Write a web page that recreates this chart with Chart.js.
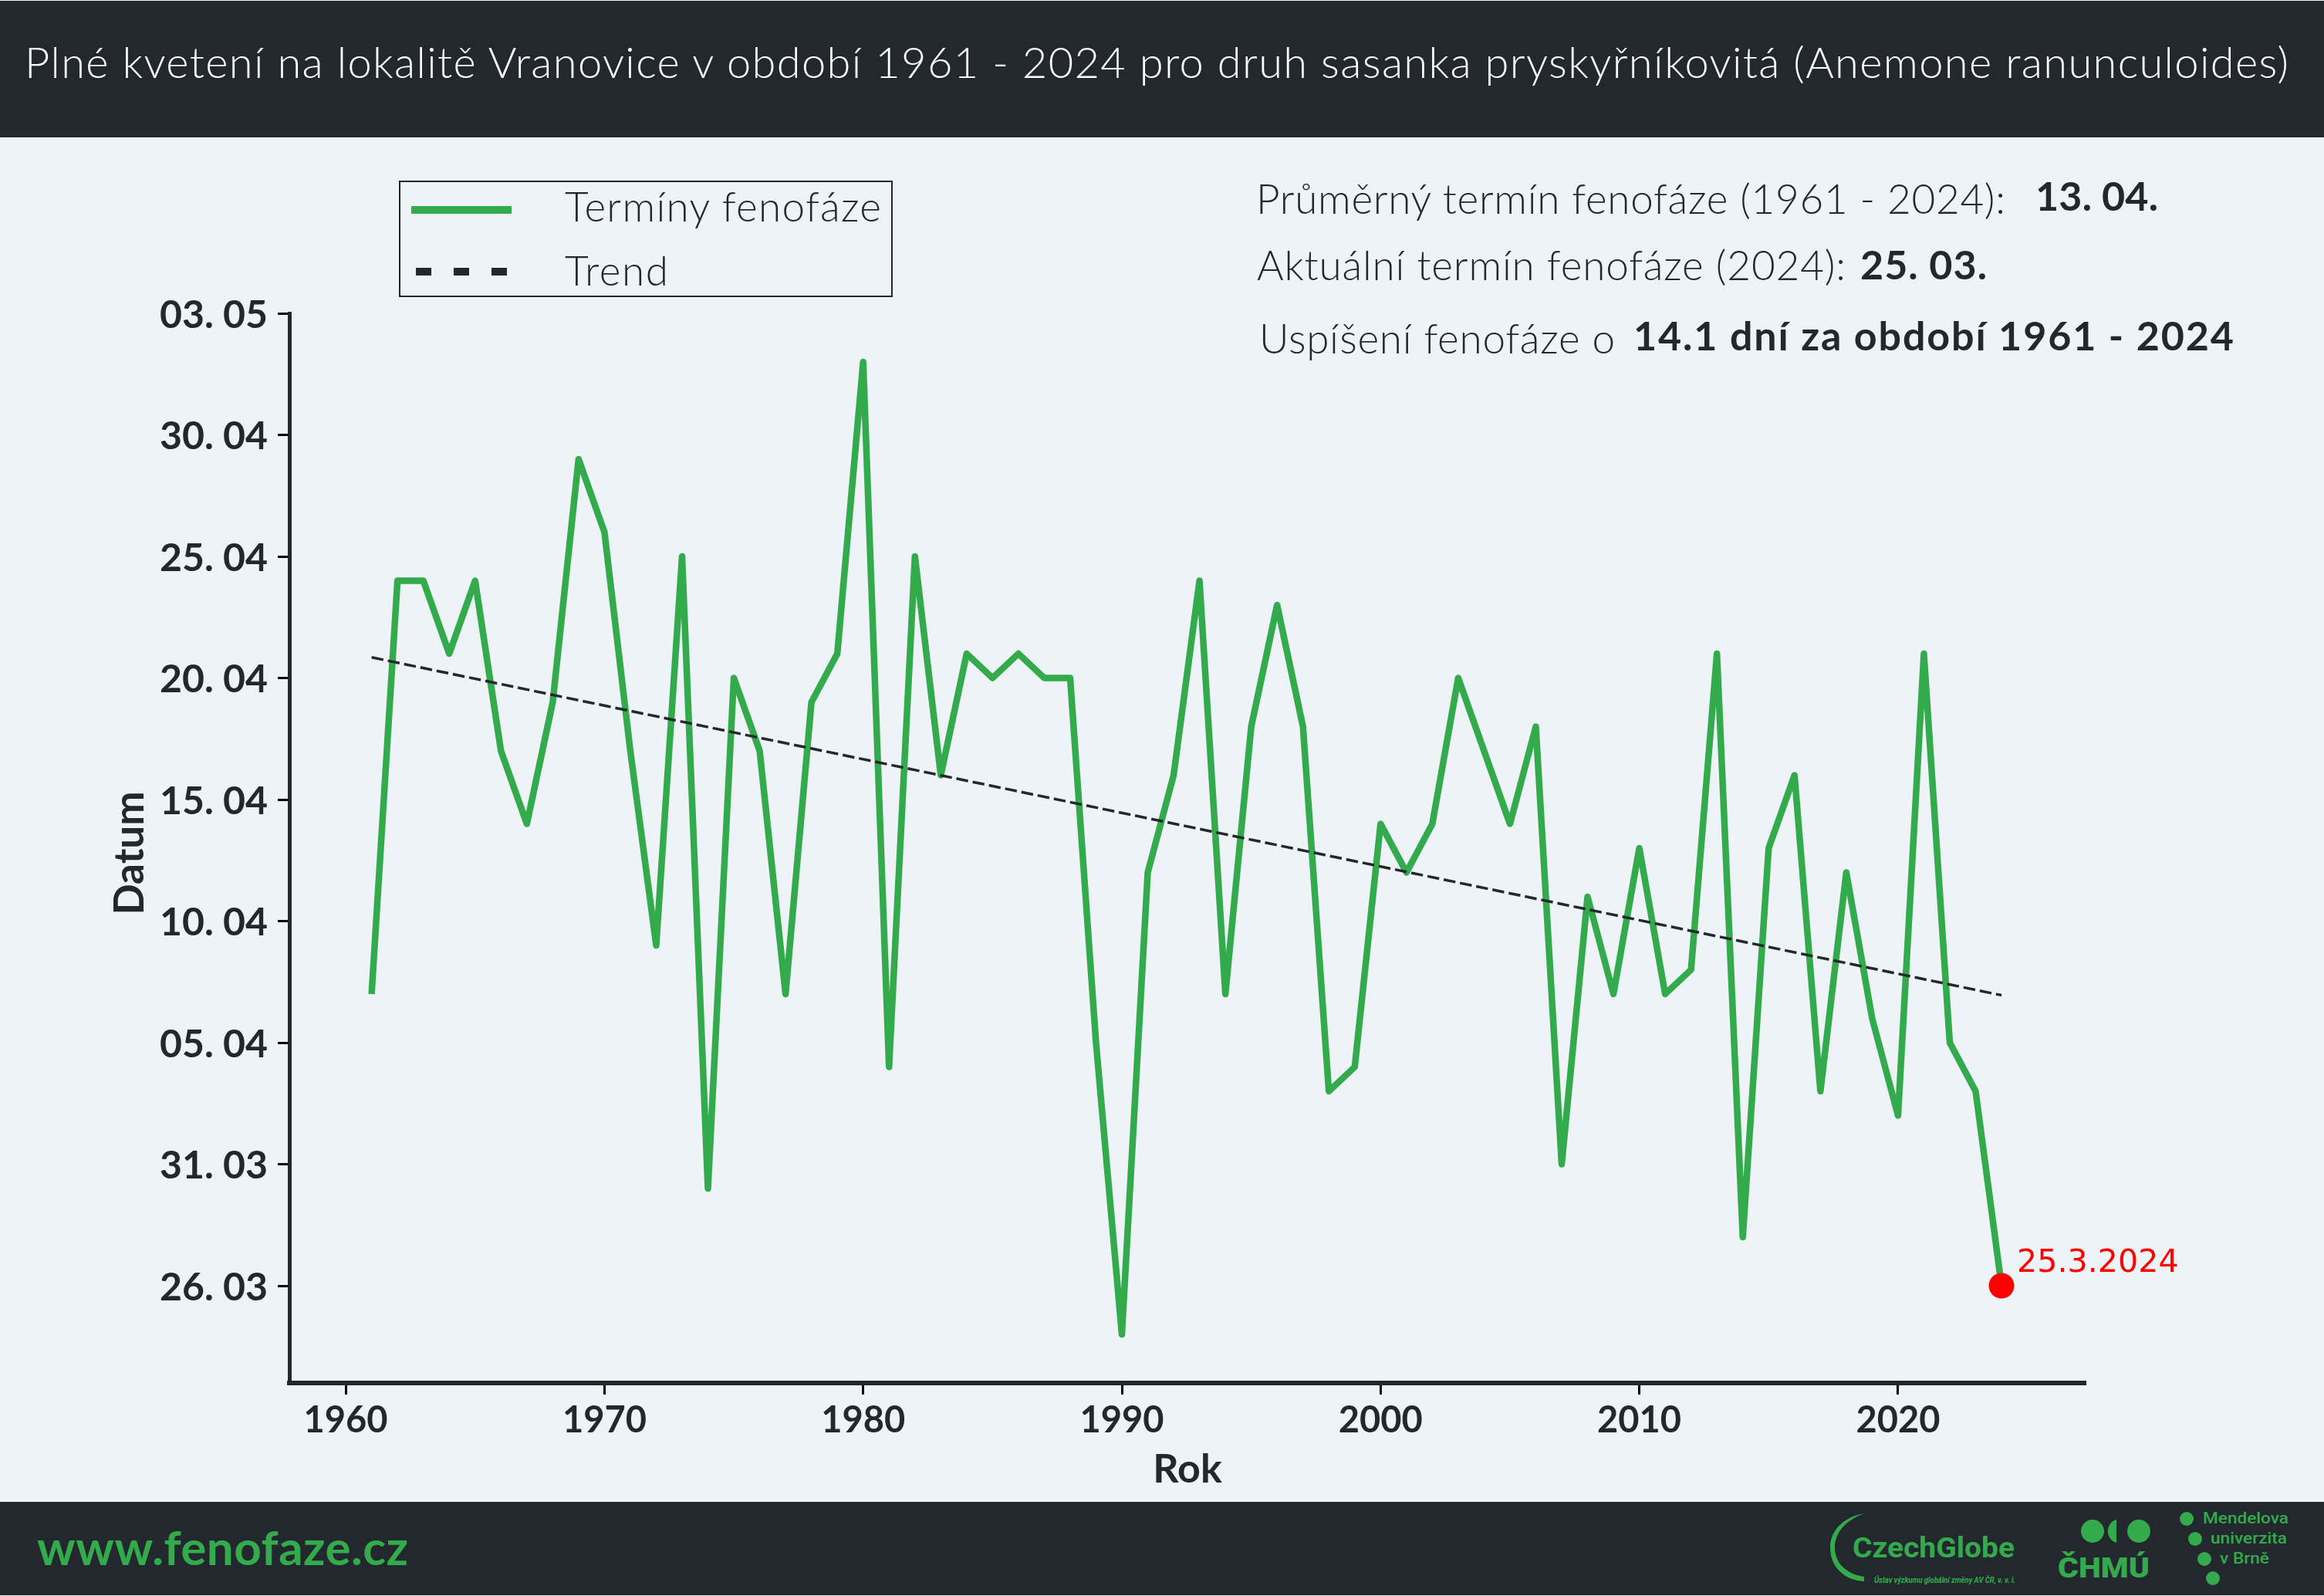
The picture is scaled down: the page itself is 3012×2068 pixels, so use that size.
<!DOCTYPE html>
<html lang="cs">
<head>
<meta charset="utf-8">
<title>Plné kvetení - Vranovice</title>
<script src="https://cdn.jsdelivr.net/npm/chart.js@4/dist/chart.umd.min.js"></script>
<style>
    html, body { margin: 0; padding: 0; background: #edf3f6; overflow: hidden; }
    #page { position: relative; width: 3012px; height: 2068px; }
    #page svg, #page canvas { position: absolute; left: 0; top: 0; }
    text { font-family: Lato, sans-serif; }
    .dark { fill: #23282f; }
    .green { fill: #33aa4b; }
    .thin { font-weight: 300; }
    .heavy { font-weight: 700; }
</style>
</head>
<body>
<div id="page">
    <svg id="overlay" width="3012" height="2068" viewBox="0 0 3012 2068">
        <!-- header and footer bands -->
        <rect class="dark" x="0" y="1" width="3012" height="177"></rect>
        <rect class="dark" x="0" y="1946" width="3012" height="121"></rect>
        <text x="32" y="101" font-size="56" fill="#ffffff" class="thin" textLength="2934" lengthAdjust="spacing">Plné kvetení na lokalitě Vranovice v období 1961 - 2024 pro druh sasanka pryskyřníkovitá (Anemone ranunculoides)</text>

        <!-- info text top right -->
        <text class="dark thin" x="1628" y="277" font-size="53" textLength="971" lengthAdjust="spacing">Průměrný termín fenofáze (1961 - 2024):</text>
        <text class="dark heavy" x="2638" y="273" font-size="52" textLength="159" lengthAdjust="spacing">13. 04.</text>
        <text class="dark thin" x="1629" y="363" font-size="53" textLength="763" lengthAdjust="spacing">Aktuální termín fenofáze (2024):</text>
        <text class="dark heavy" x="2411" y="362" font-size="52" textLength="164" lengthAdjust="spacing">25. 03.</text>
        <text class="dark thin" x="1632" y="458" font-size="53" textLength="461" lengthAdjust="spacing">Uspíšení fenofáze o</text>
        <text class="dark heavy" x="2117" y="454" font-size="52" textLength="778" lengthAdjust="spacing">14.1 dní za období 1961 - 2024</text>

        <!-- corner where the two axis lines meet -->
        <rect class="dark" x="372.5" y="1789" width="5" height="6"></rect>

        <!-- legend is filled in from the datasets below -->
        <g id="legend"></g>

        <!-- footer -->
        <text class="green heavy" x="48" y="2028" font-size="62" textLength="481" lengthAdjust="spacing">www.fenofaze.cz</text>

        <path class="green" d="M2416 1961 C2388 1966 2372 1984 2372 2005 C2372 2030 2390 2048 2416 2049 L2416 2043 C2394 2040 2378 2026 2378 2005 C2378 1986 2392 1970 2416 1961 Z"></path>
        <text class="green heavy" x="2401" y="2018" font-size="37" style="font-family:Roboto" textLength="210" lengthAdjust="spacingAndGlyphs">CzechGlobe</text>
        <text class="green heavy" x="2429" y="2051" font-size="11" font-style="italic" style="font-family:Roboto" textLength="183" lengthAdjust="spacingAndGlyphs">Ústav výzkumu globální změny AV ČR, v. v. i.</text>

        <circle class="green" cx="2712" cy="1984" r="15"></circle>
        <path class="green" d="M2743 1969 A15 15.5 0 0 0 2743 1999 Z"></path>
        <circle class="green" cx="2772" cy="1984" r="15"></circle>
        <text class="green" x="2667" y="2044" font-size="36" style="font-family:Roboto;font-weight:900" textLength="119" lengthAdjust="spacingAndGlyphs">ČHMÚ</text>

        <circle class="green" cx="2834" cy="1968" r="9"></circle>
        <circle class="green" cx="2845" cy="1994" r="9"></circle>
        <circle class="green" cx="2857" cy="2020" r="9"></circle>
        <circle class="green" cx="2868" cy="2045" r="9"></circle>
        <text class="green" x="2855" y="1974" font-size="20" style="font-family:Roboto;font-weight:500" textLength="111" lengthAdjust="spacingAndGlyphs">Mendelova</text>
        <text class="green" x="2865" y="2000" font-size="20" style="font-family:Roboto;font-weight:500" textLength="99" lengthAdjust="spacingAndGlyphs">univerzita</text>
        <text class="green" x="2877" y="2026" font-size="20" style="font-family:Roboto;font-weight:500" textLength="64" lengthAdjust="spacingAndGlyphs">v Brně</text>
    </svg>
    <canvas id="chart" width="3012" height="2068"></canvas>
</div>
<script>
// Data. Dates are day of year (85 = 26. 03)
const years = [1961, 1962, 1963, 1964, 1965, 1966, 1967, 1968, 1969, 1970,
    1971, 1972, 1973, 1974, 1975, 1976, 1977, 1978, 1979, 1980,
    1981, 1982, 1983, 1984, 1985, 1986, 1987, 1988, 1989, 1990,
    1991, 1992, 1993, 1994, 1995, 1996, 1997, 1998, 1999, 2000,
    2001, 2002, 2003, 2004, 2005, 2006, 2007, 2008, 2009, 2010,
    2011, 2012, 2013, 2014, 2015, 2016, 2017, 2018, 2019, 2020,
    2021, 2022, 2023, 2024];
const phaseDays = [97, 114, 114, 111, 114, 107, 104, 109, 119, 116,
    107, 99, 115, 89, 110, 107, 97, 109, 111, 123,
    94, 115, 106, 111, 110, 111, 110, 110, 95, 83,
    102, 106, 114, 97, 108, 113, 108, 93, 94, 104,
    102, 104, 110, 107, 104, 108, 90, 101, 97, 103,
    97, 98, 111, 87, 103, 106, 93, 102, 96, 92,
    111, 95, 93, 85];
const trendYears = [1961, 2024];
const trendDays = [110.85, 96.95];
const currentYear = [2024];
const currentDay = [85];
const currentLabel = '25.3.2024';

const xTicks = [1960, 1970, 1980, 1990, 2000, 2010, 2020];
const yTicks = [85, 90, 95, 100, 105, 110, 115, 120, 125];
const yTickLabels = ['26. 03', '31. 03', '05. 04', '10. 04', '15. 04', '20. 04', '25. 04', '30. 04', '03. 05'];

const GREEN = '#33aa4b';
const DARK = '#23282f';

function toPoints(xs, ys) {
    return xs.map((x, i) => ({ x: x, y: ys[i] }));
}

// Red date label next to the last point
const currentLabelPlugin = {
    id: 'currentLabel',
    beforeDraw(chart) {
        // the y labels sit a little under their ticks in the reference
        chart.scales.y.getLabelItems().forEach(item => { item.options.translation[1] += 2.5; });
    },
    afterDatasetsDraw(chart) {
        const ctx = chart.ctx;
        const x = chart.scales.x.getPixelForValue(currentYear[0]);
        const y = chart.scales.y.getPixelForValue(currentDay[0]);
        ctx.save();
        ctx.font = '41.2px "DejaVu Sans"';
        ctx.fillStyle = '#ff0000';
        ctx.textAlign = 'left';
        ctx.textBaseline = 'alphabetic';
        ctx.fillText(currentLabel, x + 20, y - 18);
        ctx.restore();
    }
};

const chart = new Chart(document.getElementById('chart').getContext('2d'), {
    type: 'line',
    data: {
        datasets: [
            {
                label: 'Termíny fenofáze',
                data: toPoints(years, phaseDays),
                borderColor: GREEN,
                borderWidth: 8.5,
                borderJoinStyle: 'round',
                pointRadius: 0,
                tension: 0,
                order: 3
            },
            {
                label: 'Trend',
                data: toPoints(trendYears, trendDays),
                borderColor: DARK,
                borderWidth: 3.5,
                borderDash: [15.5, 6],
                pointRadius: 0,
                order: 2
            },
            {
                label: currentLabel,
                data: toPoints(currentYear, currentDay),
                showLine: false,
                pointRadius: 16.5,
                pointBackgroundColor: '#ff0000',
                pointBorderWidth: 0,
                order: 1
            }
        ]
    },
    options: {
        responsive: false,
        devicePixelRatio: 1,
        animation: false,
        layout: { padding: { top: 406, right: 309, left: 0, bottom: 0 } },
        plugins: { legend: { display: false }, tooltip: { enabled: false } },
        scales: {
            x: {
                type: 'linear',
                min: 1957.82,
                max: 2027.25,
                afterBuildTicks: scale => { scale.ticks = xTicks.map(v => ({ value: v })); },
                afterFit: scale => { scale.height = 2068 - 1792; },
                grid: { drawOnChartArea: false, tickLength: 15, tickWidth: 3, tickColor: '#000000' },
                border: { display: true, color: DARK, width: 6 },
                ticks: {
                    color: DARK,
                    padding: 6,
                    maxRotation: 0,
                    autoSkip: false,
                    font: { family: 'Lato', size: 47, weight: 'bold' },
                    callback: v => String(v)
                },
                title: {
                    display: true,
                    text: 'Rok',
                    color: DARK,
                    font: { family: 'Lato', size: 52, weight: 'bold' },
                    padding: { top: 0, bottom: 133 }
                }
            },
            y: {
                type: 'linear',
                min: 81,
                max: 125,
                afterBuildTicks: scale => { scale.ticks = yTicks.map(v => ({ value: v })); },
                afterFit: scale => { scale.width = 375; },
                grid: { drawOnChartArea: false, tickLength: 15, tickWidth: 3, tickColor: '#000000' },
                border: { display: true, color: DARK, width: 5 },
                ticks: {
                    color: DARK,
                    padding: 13,
                    autoSkip: false,
                    font: { family: 'Lato', size: 50, weight: 'bold' },
                    callback: v => yTickLabels[yTicks.indexOf(v)]
                },
                title: {
                    display: true,
                    text: 'Datum ',
                    color: DARK,
                    font: { family: 'Lato', size: 53, weight: 'bold' },
                    padding: { top: 137, bottom: 0 }
                }
            }
        }
    },
    plugins: [currentLabelPlugin]
});

// Build the legend box from the first two datasets
function drawLegend() {
    const svgNs = 'http://www.w3.org/2000/svg';
    const group = document.getElementById('legend');
    const add = (tag, attrs, text) => {
        const el = document.createElementNS(svgNs, tag);
        Object.keys(attrs).forEach(k => el.setAttribute(k, attrs[k]));
        if (text) el.textContent = text;
        group.appendChild(el);
    };
    add('rect', { x: 518, y: 235, width: 638, height: 149, fill: 'none', stroke: DARK, 'stroke-width': 2 });
    const rows = [
        { handleY: 272, textY: 287, textWidth: 410 },
        { handleY: 352, textY: 370, textWidth: 134 }
    ];
    chart.data.datasets.slice(0, 2).forEach((ds, i) => {
        const attrs = { x1: 533, x2: 663, y1: rows[i].handleY, y2: rows[i].handleY, stroke: ds.borderColor, 'stroke-width': 10 };
        if (ds.borderDash) {
            attrs.x1 = 539;
            attrs['stroke-dasharray'] = '20 29';
        }
        add('line', attrs);
        add('text', { x: 732, y: rows[i].textY, 'font-size': 53, fill: DARK, 'class': 'thin', textLength: rows[i].textWidth, lengthAdjust: 'spacing' }, ds.label);
    });
}
drawLegend();
</script>
</body>
</html>
